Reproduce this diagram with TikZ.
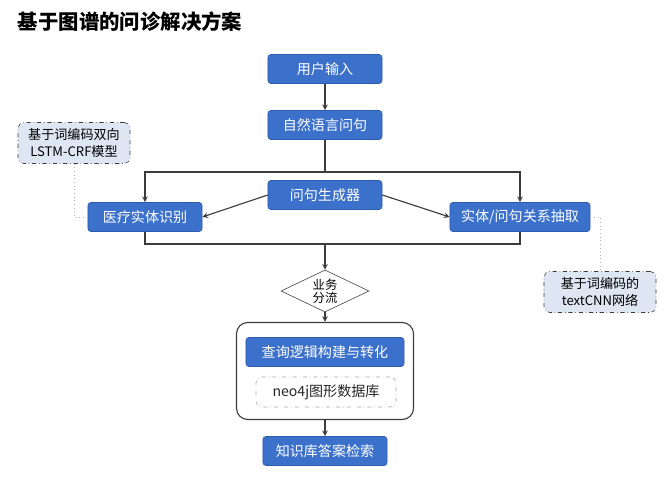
\documentclass[tikz,border=0pt]{standalone}
\usepackage{fontspec}
\setmainfont{Noto Sans CJK SC}
\usepackage{tikz}
\usetikzlibrary{arrows, shapes, fit}

\definecolor{boxblue}{RGB}{59,112,203}
\definecolor{boxedge}{RGB}{45,90,170}
\definecolor{notefill}{RGB}{222,230,244}
\definecolor{linegray}{RGB}{60,60,60}

\begin{document}
\begin{tikzpicture}[x=0.025cm, y=-0.025cm, >=stealth,
        block/.style={rectangle, draw=boxedge, fill=boxblue, text=white, rounded corners=2pt, minimum width=2.85cm, minimum height=0.725cm, font=\fontsize{10}{12}\selectfont},
        note/.style={rectangle, draw=linegray, dash dot, fill=notefill, rounded corners=4pt, minimum width=2.8cm, minimum height=1.025cm, align=center, font=\fontsize{9.3}{11.5}\selectfont},
        switch/.style={diamond, draw=linegray, fill=white, aspect=2, inner sep=0pt, minimum width=2.2cm, minimum height=1.05cm, align=center, font=\fontsize{8.8}{11}\selectfont},
        flow/.style={->, draw=linegray, line width=0.8pt},
        link/.style={draw=black!30, dotted, line width=0.6pt}
        ]
        \useasboundingbox (0,0) rectangle (671,484);
        % Title
        \node [anchor=west, font=\fontsize{14.5}{16}\selectfont\bfseries] (title) at (13,22) {基于图谱的问诊解决方案};

        % Nodes
        \node [block] (input) at (325,69) {用户输入};
        \node [block] (nlq) at (325,125) {自然语言问句};
        \node [block] (gen) at (325,195) {问句生成器};
        \node [block] (ner) at (145,217) {医疗实体识别};
        \node [block, minimum width=3.5cm] (rel) at (520,217) {实体/问句关系抽取};
        \node [switch] (split) at (325,291) {业务\\[-2pt]分流};

        \node [rectangle, draw=linegray, line width=0.8pt, rounded corners=8pt, minimum width=4.425cm, minimum height=2.425cm] (engine) at (325,371) {};
        \node [block, minimum width=3.95cm] (query) at (325,352) {查询逻辑构建与转化};
        \node [rectangle, draw=black!35, dash dot, rounded corners=4pt, minimum width=3.5cm, minimum height=0.75cm, text=black!85, font=\fontsize{10}{12}\selectfont] (neo) at (326,392) {neo4j图形数据库};
        \node [block, minimum width=3.1cm] (answer) at (325,451) {知识库答案检索};

        \node [note] (lstm) at (74,143) {基于词编码双向\\LSTM-CRF模型};
        \node [note] (cnn) at (600,292) {基于词编码的\\textCNN网络};

        \coordinate (fork) at (325,172);
        \coordinate (join) at (325,244);

        % Edges
        \draw[flow] (input) -- (nlq);
        \draw[draw=linegray, line width=0.8pt] (nlq) -- (fork);
        \draw[flow] (fork) -| (ner.north);
        \draw[flow] (fork) -| (rel.north);
        \draw[flow] (gen.west) -- (ner.east);
        \draw[flow] (gen.east) -- (rel.west);

        \draw[draw=linegray, line width=0.8pt] (ner.south) |- (join) -| (rel.south);
        \draw[flow] (join) -- (split.north);
        \draw[flow] (split.south) -- (engine.north);
        \draw[flow] (engine.south) -- (answer.north);

        % Notes
        \draw[link] (lstm.south) |- (ner.west);
        \draw[link] (rel.east) -| (cnn.north);

    \end{tikzpicture}
\end{document}
